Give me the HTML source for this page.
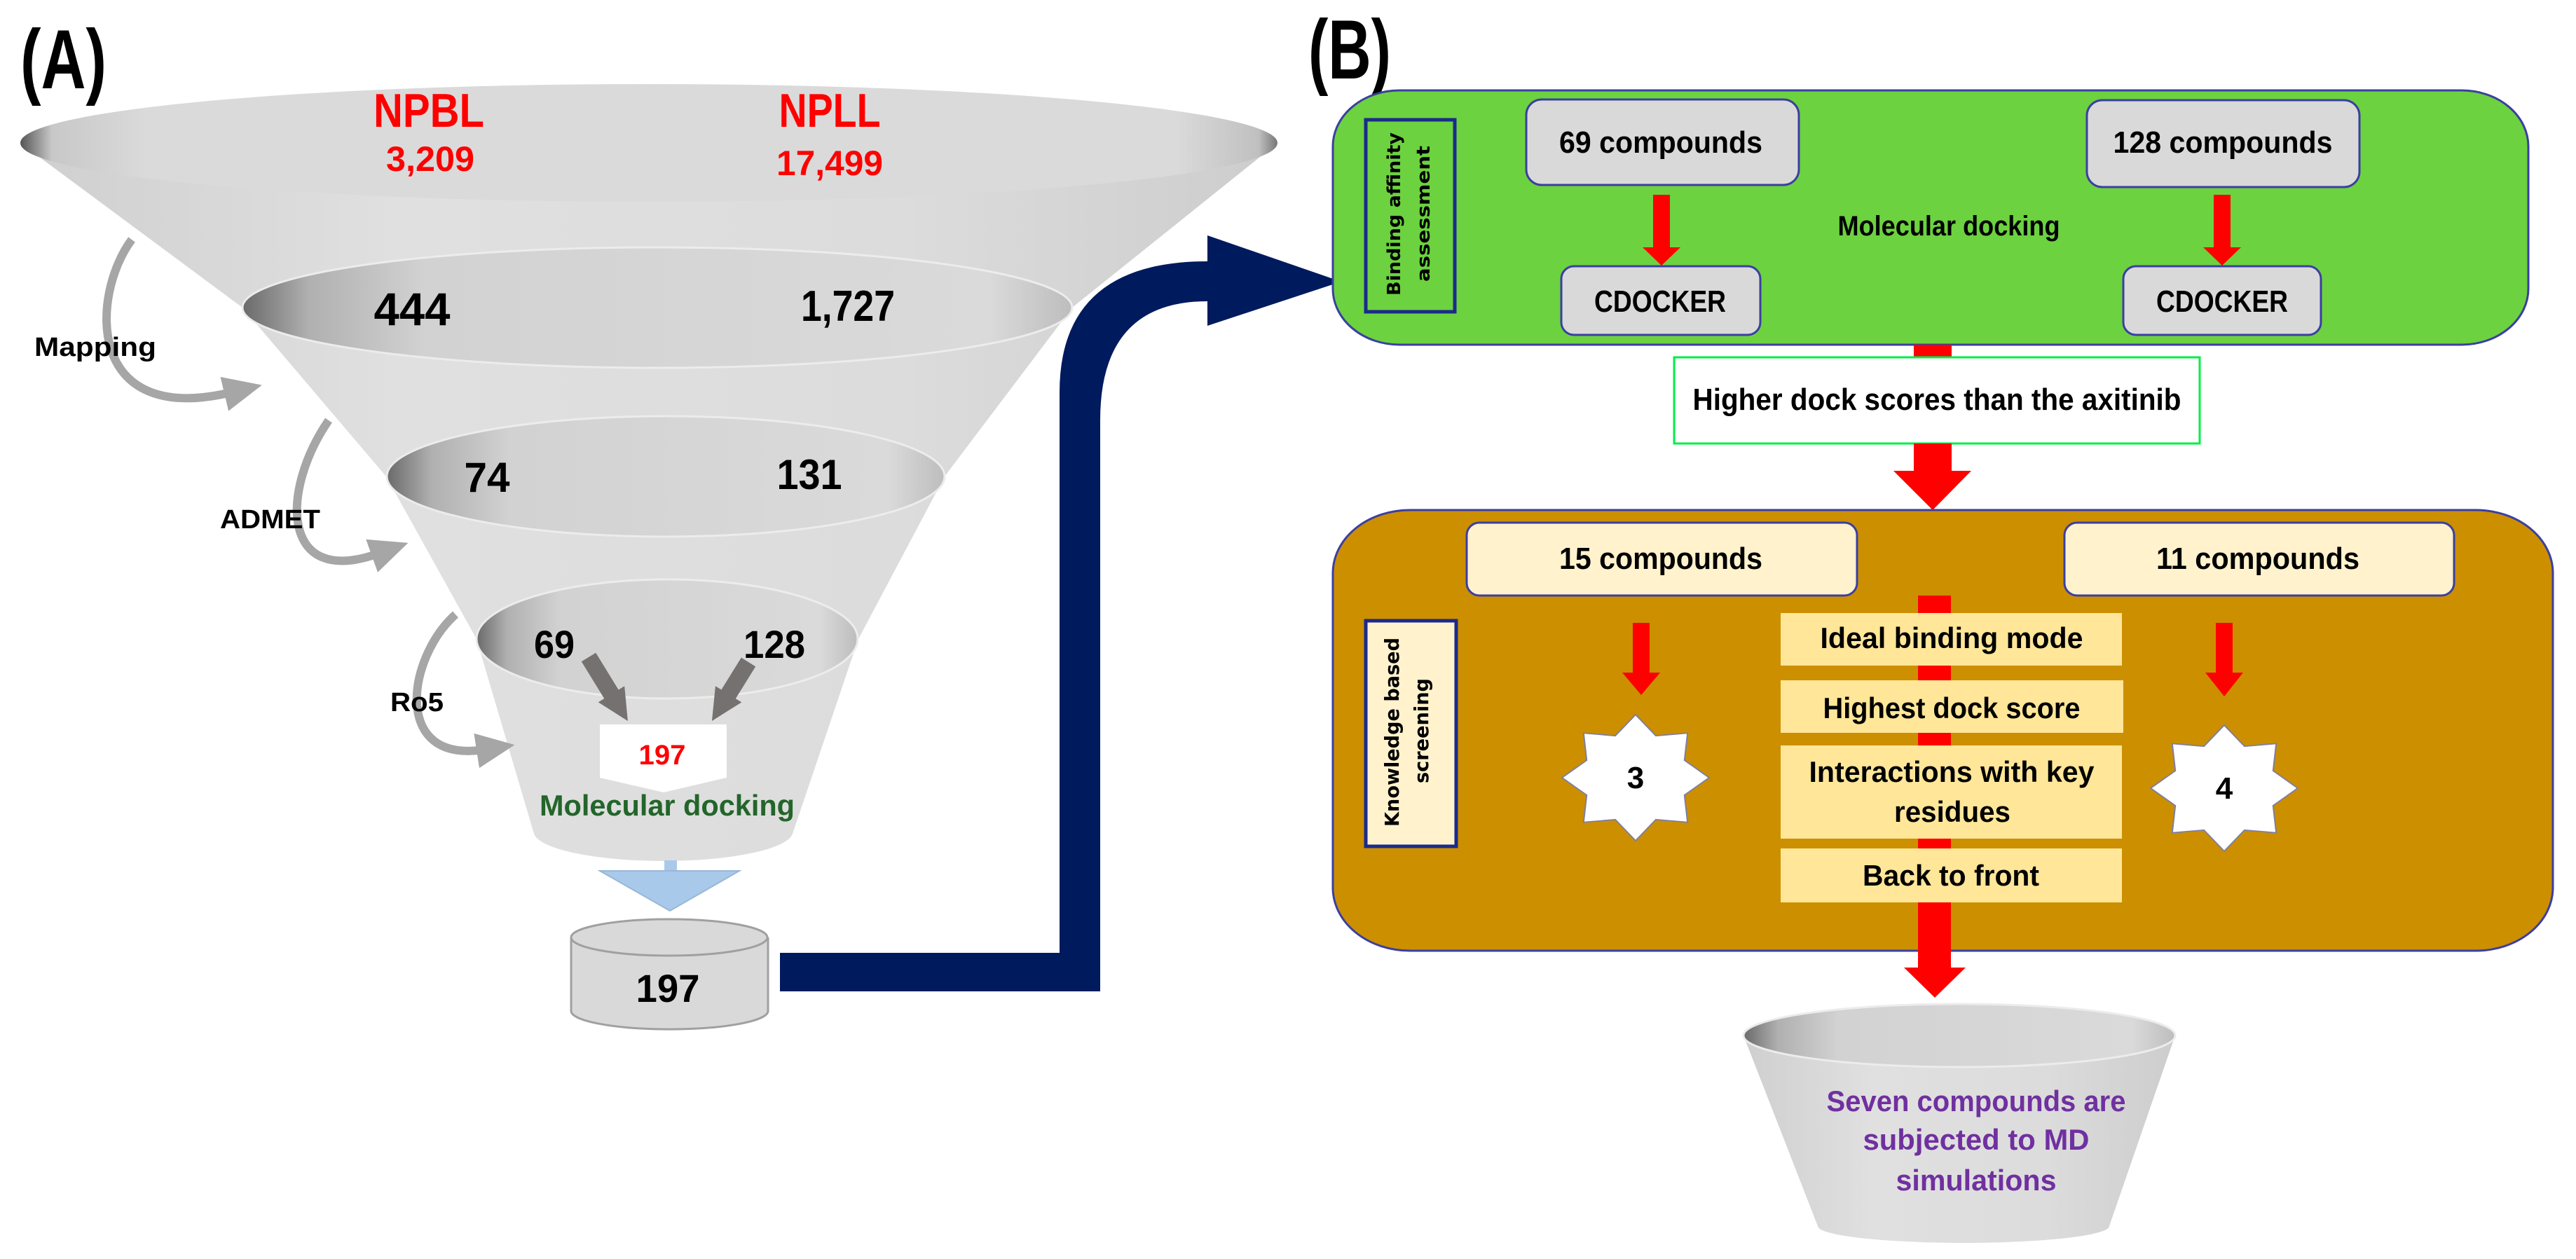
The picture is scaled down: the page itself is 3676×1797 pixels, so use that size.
<!DOCTYPE html>
<html><head><meta charset="utf-8"><style>
html,body{margin:0;padding:0;background:#fff;}
svg{display:block;}
text{font-family:"Liberation Sans Narrow","Liberation Sans",sans-serif;font-weight:bold;}
</style></head><body>
<svg width="3676" height="1797" viewBox="0 0 3676 1797" xmlns="http://www.w3.org/2000/svg">
<defs>
<linearGradient id="cone" x1="0" y1="0" x2="1" y2="0">
<stop offset="0" stop-color="#cfcfcf"/><stop offset="0.3" stop-color="#e0e0e0"/><stop offset="0.7" stop-color="#dcdcdc"/><stop offset="1" stop-color="#cdcdcd"/></linearGradient>
<linearGradient id="rim" x1="0" y1="0" x2="1" y2="0">
<stop offset="0" stop-color="#6a6a6a"/><stop offset="0.08" stop-color="#b0b0b0"/><stop offset="0.22" stop-color="#d2d2d2"/><stop offset="0.9" stop-color="#dadada"/><stop offset="1" stop-color="#bdbdbd"/></linearGradient>
<linearGradient id="rimTop" x1="0" y1="0" x2="1" y2="0">
<stop offset="0" stop-color="#555"/><stop offset="0.025" stop-color="#c8c8c8"/><stop offset="0.1" stop-color="#dadada"/><stop offset="0.92" stop-color="#dadada"/><stop offset="0.985" stop-color="#c0c0c0"/><stop offset="1" stop-color="#777"/></linearGradient>
<marker id="gh" markerUnits="userSpaceOnUse" markerWidth="60" markerHeight="60" refX="10" refY="30" orient="auto">
<path d="M0,5 L55,30 L0,55 Z" fill="#a6a6a6"/></marker>
<marker id="dh" markerUnits="userSpaceOnUse" markerWidth="60" markerHeight="60" refX="5" refY="30" orient="auto">
<path d="M0,8 L45,30 L0,52 Z" fill="#767171"/></marker>
</defs>

<text x="29" y="126" font-size="120" textLength="123" lengthAdjust="spacingAndGlyphs">(A)</text>
<path d="M29,204 L346,439 L551,680 L680,912 L762,1190 A185,42 0 0 0 1131,1190 L1225,912 L1348,680 L1530,439 L1823,204 Z" fill="url(#cone)"/>
<ellipse cx="926" cy="204" rx="897" ry="84" fill="url(#rimTop)"/>
<ellipse cx="938" cy="439" rx="592" ry="86" fill="url(#rim)" stroke="#ececec" stroke-width="3"/>
<ellipse cx="950" cy="680" rx="398" ry="86" fill="url(#rim)" stroke="#ececec" stroke-width="3"/>
<ellipse cx="952" cy="912" rx="272" ry="85" fill="url(#rim)" stroke="#ececec" stroke-width="3"/>

<text x="612" y="181" font-size="68" fill="#ff0000" text-anchor="middle" textLength="158" lengthAdjust="spacingAndGlyphs">NPBL</text>
<text x="614" y="244" font-size="50" fill="#ff0000" text-anchor="middle" textLength="126" lengthAdjust="spacingAndGlyphs">3,209</text>
<text x="1184" y="181" font-size="68" fill="#ff0000" text-anchor="middle" textLength="145" lengthAdjust="spacingAndGlyphs">NPLL</text>
<text x="1184" y="250" font-size="50" fill="#ff0000" text-anchor="middle" textLength="152" lengthAdjust="spacingAndGlyphs">17,499</text>
<text x="588" y="464" font-size="66" text-anchor="middle" textLength="109" lengthAdjust="spacingAndGlyphs">444</text>
<text x="1210" y="458" font-size="62" text-anchor="middle" textLength="134" lengthAdjust="spacingAndGlyphs">1,727</text>
<text x="695" y="702" font-size="60" text-anchor="middle" textLength="65" lengthAdjust="spacingAndGlyphs">74</text>
<text x="1155" y="698" font-size="60" text-anchor="middle" textLength="93" lengthAdjust="spacingAndGlyphs">131</text>
<text x="791" y="939" font-size="56" text-anchor="middle" textLength="58" lengthAdjust="spacingAndGlyphs">69</text>
<text x="1105" y="939" font-size="56" text-anchor="middle" textLength="88" lengthAdjust="spacingAndGlyphs">128</text>

<path d="M188,342 C130,420 120,610 330,560" fill="none" stroke="#a6a6a6" stroke-width="12" marker-end="url(#gh)"/>
<path d="M469,600 C400,700 400,840 540,790" fill="none" stroke="#a6a6a6" stroke-width="12" marker-end="url(#gh)"/>
<path d="M650,877 C580,940 560,1090 690,1070" fill="none" stroke="#a6a6a6" stroke-width="12" marker-end="url(#gh)"/>
<text x="49" y="508" font-size="38" textLength="174" lengthAdjust="spacingAndGlyphs">Mapping</text>
<text x="314" y="754" font-size="38" textLength="143" lengthAdjust="spacingAndGlyphs">ADMET</text>
<text x="557" y="1015" font-size="38" textLength="76" lengthAdjust="spacingAndGlyphs">Ro5</text>

<line x1="840" y1="938" x2="875" y2="995" stroke="#767171" stroke-width="24" marker-end="url(#dh)"/>
<line x1="1068" y1="945" x2="1037" y2="995" stroke="#767171" stroke-width="24" marker-end="url(#dh)"/>
<path d="M856,1034 L1037,1034 L1037,1110 L947,1131 L856,1110 Z" fill="#ffffff"/>
<text x="945" y="1091" font-size="40" fill="#ff0000" text-anchor="middle" textLength="67" lengthAdjust="spacingAndGlyphs">197</text>
<text x="952" y="1164" font-size="42" fill="#23652a" text-anchor="middle" textLength="364" lengthAdjust="spacingAndGlyphs">Molecular docking</text>

<rect x="948" y="1228" width="18" height="16" fill="#a9c9ea"/>
<path d="M856,1243 L1055,1243 L956,1300 Z" fill="#a9c9ea" stroke="#9ab6d6" stroke-width="2"/>
<path d="M815,1338 L815,1443 A140,26 0 0 0 1096,1443 L1096,1338" fill="#d9d9d9" stroke="#a0a0a0" stroke-width="3"/>
<ellipse cx="955" cy="1338" rx="140" ry="26" fill="#d9d9d9" stroke="#a0a0a0" stroke-width="3"/>
<text x="953" y="1430" font-size="56" text-anchor="middle" textLength="91" lengthAdjust="spacingAndGlyphs">197</text>

<path d="M1113,1360 L1512,1360 L1512,560 Q1512,373 1723,373 L1723,336 L1914,402 L1723,465 L1723,430 Q1570,430 1570,600 L1570,1415 L1113,1415 Z" fill="#001a5e"/>

<text x="1867" y="112" font-size="120" textLength="118" lengthAdjust="spacingAndGlyphs">(B)</text>

<rect x="1902" y="129" width="1706" height="363" rx="95" ry="80" fill="#6cd23f" stroke="#3b3fa0" stroke-width="3"/>
<rect x="1949" y="171" width="127" height="274" fill="#6cd23f" stroke="#1a2a8c" stroke-width="5"/>
<text transform="translate(1998,422) rotate(-90)" font-size="26" textLength="233" lengthAdjust="spacingAndGlyphs" style="font-family:'DejaVu Sans',sans-serif">Binding affinity</text>
<text transform="translate(2040,402) rotate(-90)" font-size="26" textLength="194" lengthAdjust="spacingAndGlyphs" style="font-family:'DejaVu Sans',sans-serif">assessment</text>

<rect x="2178" y="142" width="389" height="122" rx="22" fill="#d9d9d9" stroke="#3b3fa0" stroke-width="3"/>
<text x="2370" y="218" font-size="44" text-anchor="middle" textLength="290" lengthAdjust="spacingAndGlyphs">69 compounds</text>
<rect x="2978" y="143" width="389" height="124" rx="22" fill="#d9d9d9" stroke="#3b3fa0" stroke-width="3"/>
<text x="3172" y="218" font-size="44" text-anchor="middle" textLength="313" lengthAdjust="spacingAndGlyphs">128 compounds</text>

<rect x="2359" y="278" width="24" height="76" fill="#ff0000"/><path d="M2344,353 L2398,353 L2371,379 Z" fill="#ff0000"/>
<rect x="3159" y="278" width="24" height="76" fill="#ff0000"/><path d="M3144,353 L3198,353 L3171,379 Z" fill="#ff0000"/>
<text x="2781" y="336" font-size="40" text-anchor="middle" textLength="317" lengthAdjust="spacingAndGlyphs">Molecular  docking</text>

<rect x="2228" y="380" width="284" height="98" rx="18" fill="#d9d9d9" stroke="#3b3fa0" stroke-width="3"/>
<text x="2369" y="445" font-size="44" text-anchor="middle" textLength="188" lengthAdjust="spacingAndGlyphs">CDOCKER</text>
<rect x="3030" y="380" width="282" height="98" rx="18" fill="#d9d9d9" stroke="#3b3fa0" stroke-width="3"/>
<text x="3171" y="445" font-size="44" text-anchor="middle" textLength="188" lengthAdjust="spacingAndGlyphs">CDOCKER</text>

<rect x="2731" y="492" width="54" height="20" fill="#ff0000"/>
<rect x="2389" y="510" width="750" height="123" fill="#ffffff" stroke="#00ee44" stroke-width="3"/>
<text x="2764" y="585" font-size="44" text-anchor="middle" textLength="697" lengthAdjust="spacingAndGlyphs">Higher dock scores than the axitinib</text>
<rect x="2731" y="633" width="54" height="40" fill="#ff0000"/>
<path d="M2702,672 L2813,672 L2758,728 Z" fill="#ff0000"/>

<rect x="1902" y="728" width="1741" height="629" rx="110" ry="90" fill="#cc8f00" stroke="#3b3fa0" stroke-width="3"/>
<rect x="2737" y="850" width="47" height="440" fill="#ff0000"/>
<rect x="2093" y="746" width="557" height="104" rx="18" fill="#fff2cc" stroke="#3b3fa0" stroke-width="3"/>
<text x="2370" y="812" font-size="44" text-anchor="middle" textLength="290" lengthAdjust="spacingAndGlyphs">15 compounds</text>
<rect x="2946" y="746" width="556" height="104" rx="18" fill="#fff2cc" stroke="#3b3fa0" stroke-width="3"/>
<text x="3222" y="812" font-size="44" text-anchor="middle" textLength="290" lengthAdjust="spacingAndGlyphs">11 compounds</text>

<rect x="1949" y="886" width="129" height="322" fill="#fff2cc" stroke="#1a2a8c" stroke-width="5"/>
<text transform="translate(1996,1180) rotate(-90)" font-size="28" textLength="270" lengthAdjust="spacingAndGlyphs" style="font-family:'DejaVu Sans',sans-serif">Knowledge based</text>
<text transform="translate(2038,1118) rotate(-90)" font-size="28" textLength="150" lengthAdjust="spacingAndGlyphs" style="font-family:'DejaVu Sans',sans-serif">screening</text>

<rect x="2330" y="889" width="24" height="72" fill="#ff0000"/><path d="M2315,960 L2369,960 L2342,992 Z" fill="#ff0000"/>
<rect x="3162" y="889" width="24" height="72" fill="#ff0000"/><path d="M3147,960 L3201,960 L3174,994 Z" fill="#ff0000"/>

<g transform="translate(2334,1110) scale(1.05,0.9)">
<path d="M0,-100 L27.6,-66.5 L70.7,-70.7 L66.5,-27.6 L100,0 L66.5,27.6 L70.7,70.7 L27.6,66.5 L0,100 L-27.6,66.5 L-70.7,70.7 L-66.5,27.6 L-100,0 L-66.5,-27.6 L-70.7,-70.7 L-27.6,-66.5 Z" fill="#fff" stroke="#7f7f9f" stroke-width="2"/></g>
<text x="2334" y="1125" font-size="44" text-anchor="middle">3</text>
<g transform="translate(3174,1125) scale(1.05,0.9)">
<path d="M0,-100 L27.6,-66.5 L70.7,-70.7 L66.5,-27.6 L100,0 L66.5,27.6 L70.7,70.7 L27.6,66.5 L0,100 L-27.6,66.5 L-70.7,70.7 L-66.5,27.6 L-100,0 L-66.5,-27.6 L-70.7,-70.7 L-27.6,-66.5 Z" fill="#fff" stroke="#7f7f9f" stroke-width="2"/></g>
<text x="3174" y="1140" font-size="44" text-anchor="middle">4</text>

<rect x="2541" y="875" width="487" height="75" fill="#ffe699"/>
<text x="2785" y="925" font-size="42" text-anchor="middle" textLength="375" lengthAdjust="spacingAndGlyphs">Ideal binding mode</text>
<rect x="2541" y="971" width="489" height="75" fill="#ffe699"/>
<text x="2785" y="1025" font-size="42" text-anchor="middle" textLength="367" lengthAdjust="spacingAndGlyphs">Highest dock score</text>
<rect x="2541" y="1064" width="487" height="133" fill="#ffe699"/>
<text x="2785" y="1116" font-size="42" text-anchor="middle" textLength="407" lengthAdjust="spacingAndGlyphs">Interactions with key</text>
<text x="2786" y="1173" font-size="42" text-anchor="middle" textLength="166" lengthAdjust="spacingAndGlyphs">residues</text>
<rect x="2541" y="1211" width="487" height="77" fill="#ffe699"/>
<text x="2784" y="1264" font-size="42" text-anchor="middle" textLength="252" lengthAdjust="spacingAndGlyphs">Back to front</text>

<rect x="2737" y="1288" width="47" height="94" fill="#ff0000"/>
<path d="M2717,1381 L2805,1381 L2761,1424 Z" fill="#ff0000"/>

<path d="M2488,1478 L2594,1750 A208,24 0 0 0 3010,1750 L3104,1478 Z" fill="url(#cone)"/>
<ellipse cx="2796" cy="1478" rx="308" ry="45" fill="url(#rim)" stroke="#ececec" stroke-width="3"/>
<text x="2820" y="1586" font-size="42" fill="#7030a0" text-anchor="middle" textLength="427" lengthAdjust="spacingAndGlyphs">Seven compounds are</text>
<text x="2820" y="1641" font-size="42" fill="#7030a0" text-anchor="middle" textLength="323" lengthAdjust="spacingAndGlyphs">subjected to MD</text>
<text x="2820" y="1699" font-size="42" fill="#7030a0" text-anchor="middle" textLength="229" lengthAdjust="spacingAndGlyphs">simulations</text>
</svg>
</body></html>
